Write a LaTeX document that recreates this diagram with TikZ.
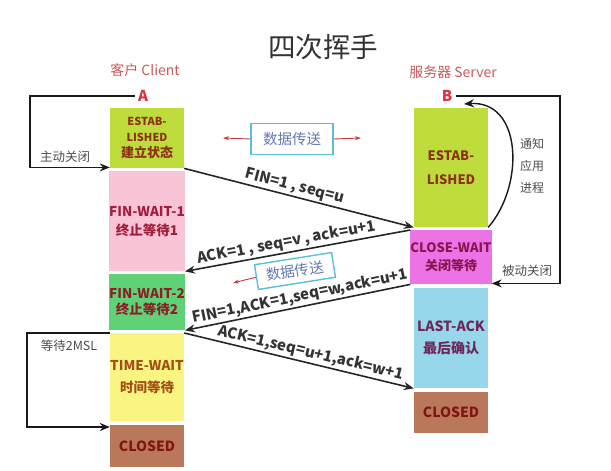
\documentclass[tikz,border=0pt]{standalone}
\usepackage{fontspec}
\setmainfont{Noto Sans CJK SC}
\usetikzlibrary{arrows.meta}
\definecolor{estab}{RGB}{190,220,60}
\definecolor{estabtxt}{RGB}{140,50,20}
\definecolor{finone}{RGB}{250,196,215}
\definecolor{finonetxt}{RGB}{160,30,60}
\definecolor{fintwo}{RGB}{95,210,120}
\definecolor{fintwotxt}{RGB}{140,30,40}
\definecolor{timewait}{RGB}{250,245,130}
\definecolor{timewaittxt}{RGB}{160,80,20}
\definecolor{closed}{RGB}{185,120,90}
\definecolor{closedtxt}{RGB}{130,20,20}
\definecolor{closewait}{RGB}{235,115,230}
\definecolor{closewaittxt}{RGB}{140,20,80}
\definecolor{lastack}{RGB}{150,215,235}
\definecolor{lastacktxt}{RGB}{110,40,90}
\definecolor{labelred}{RGB}{220,50,60}
\definecolor{headred}{RGB}{200,90,90}
\definecolor{dataline}{RGB}{90,190,215}
\definecolor{datatext}{RGB}{100,120,180}
\definecolor{arrowred}{RGB}{190,60,60}
\begin{document}
\begin{tikzpicture}[x=1pt,y=-1pt,
        state/.style={rectangle, minimum width=74pt, inner sep=0pt, anchor=north, align=center},
        msg/.style={-{Stealth[length=10pt,width=8pt]}, line width=1.6pt, black!85},
        msglabel/.style={sloped, above, inner sep=1.5pt, font=\bfseries\fontsize{15}{17}\selectfont, text=black!80},
        bracket/.style={-{Stealth[length=10pt,width=8pt]}, line width=1.6pt, black!90},
        side/.style={font=\fontsize{12.5}{14}\selectfont, text=black!70},
        datbox/.style={draw=dataline, line width=1.4pt, text=datatext, minimum width=82pt, minimum height=31pt, font=\fontsize{14.5}{16}\selectfont},
        datarrow/.style={-{Stealth[length=6pt,width=4pt]}, line width=0.9pt, arrowred}]
    \useasboundingbox (0,0) rectangle (611,471);
    % headings
    \node[font=\fontsize{27.5}{30}\selectfont, text=black!80] (title) at (323,47) {四次挥手};
    \node[font=\fontsize{14}{16}\selectfont, text=headred] (client) at (145,70) {客户 Client};
    \node[font=\fontsize{14}{16}\selectfont, text=headred] (server) at (453,72) {服务器 Server};
    \node[font=\bfseries\fontsize{15}{17}\selectfont, text=labelred] (A) at (143,96) {A};
    \node[font=\bfseries\fontsize{15}{17}\selectfont, text=labelred] (B) at (447,96) {B};
    % states of both sides: name/x/top/height/fill/text colour/font/label
    \foreach \name/\x/\top/\h/\fillc/\textc/\fs/\txt in {
            ce/147/108/60/estab/estabtxt/{\fontsize{11}{16}}/{ESTAB-\\LISHED\\{\fontsize{13}{16}\selectfont 建立状态}},
            fwone/147/171/100/finone/finonetxt/{\fontsize{13.5}{19}}/{FIN-WAIT-1\\终止等待1},
            fwtwo/147/274/56/fintwo/fintwotxt/{\fontsize{13.5}{16}}/{FIN-WAIT-2\\终止等待2},
            tw/147/333/88/timewait/timewaittxt/{\fontsize{13.5}{22}}/{TIME-WAIT\\时间等待},
            cc/147/425/42/closed/closedtxt/{\fontsize{14}{16}}/{CLOSED},
            se/451/108/119/estab/estabtxt/{\fontsize{13}{24}}/{ESTAB-\\LISHED},
            cw/451/230/54/closewait/closewaittxt/{\fontsize{13}{18}}/{CLOSE-WAIT\\关闭等待},
            la/451/288/100/lastack/lastacktxt/{\fontsize{14}{22}}/{LAST-ACK\\最后确认},
            sc/451/392/41/closed/closedtxt/{\fontsize{14}{16}}/{CLOSED}} {
        \node[state, fill=\fillc, text=\textc, minimum height=\h pt, font=\bfseries\fs\selectfont] (\name) at (\x,\top) {\txt};
    }
    % segments exchanged
    \draw[msg] (ce.south east) -- node[msglabel, pos=0.47] {FIN=1 , seq=u} (se.south west);
    \draw[msg] (cw.north west) -- node[msglabel, pos=0.54] {ACK=1 , seq=v , ack=u+1} (fwone.south east);
    \draw[msg] (cw.south west) -- node[msglabel, pos=0.48] {FIN=1,ACK=1,seq=w,ack=u+1} (fwtwo.south east);
    \draw[msg] (tw.north east) -- node[msglabel, pos=0.54] {ACK=1,seq=u+1,ack=w+1} (la.south west);
    % data transfer
    \node[datbox] (dtone) at (292,139) {数据传送};
    \coordinate (dtonel) at (223,138);
    \coordinate (dtoner) at (361,138);
    \draw[datarrow] (dtone.west) -- (dtonel);
    \draw[datarrow] (dtone.east) -- (dtoner);
    \node[datbox, rotate=9, inner sep=1pt, minimum width=78pt, minimum height=25pt] (dttwo) at (295,271) {数据传送};
    \coordinate (dttwol) at (233,283);
    \draw[datarrow] (dttwo.west) -- (dttwol);
    % closing on both sides
    \draw[bracket] (A.west) -- (30,96) |- ([yshift=1pt]ce.south west);
    \node[side] (activeclose) at (65,157) {主动关闭};
    \draw[bracket] (tw.north west) -- (27,333) |- ([yshift=-2pt]cc.north west);
    \node[side] (waitmsl) at (69,346) {等待2MSL};
    \draw[bracket] (B.east) -- (560,96) |- ([yshift=1pt]cw.south east);
    \node[side] (passiveclose) at (527,271) {被动关闭};
    \coordinate (Bnotify) at (464,104);
    \draw[bracket, line width=1.4pt] (se.south east) .. controls (525,185) and (522,100) .. (Bnotify);
    \node[side, align=center, font=\fontsize{12}{22}\selectfont] (notify) at (532,166) {通知\\应用\\进程};
\end{tikzpicture}
\end{document}
